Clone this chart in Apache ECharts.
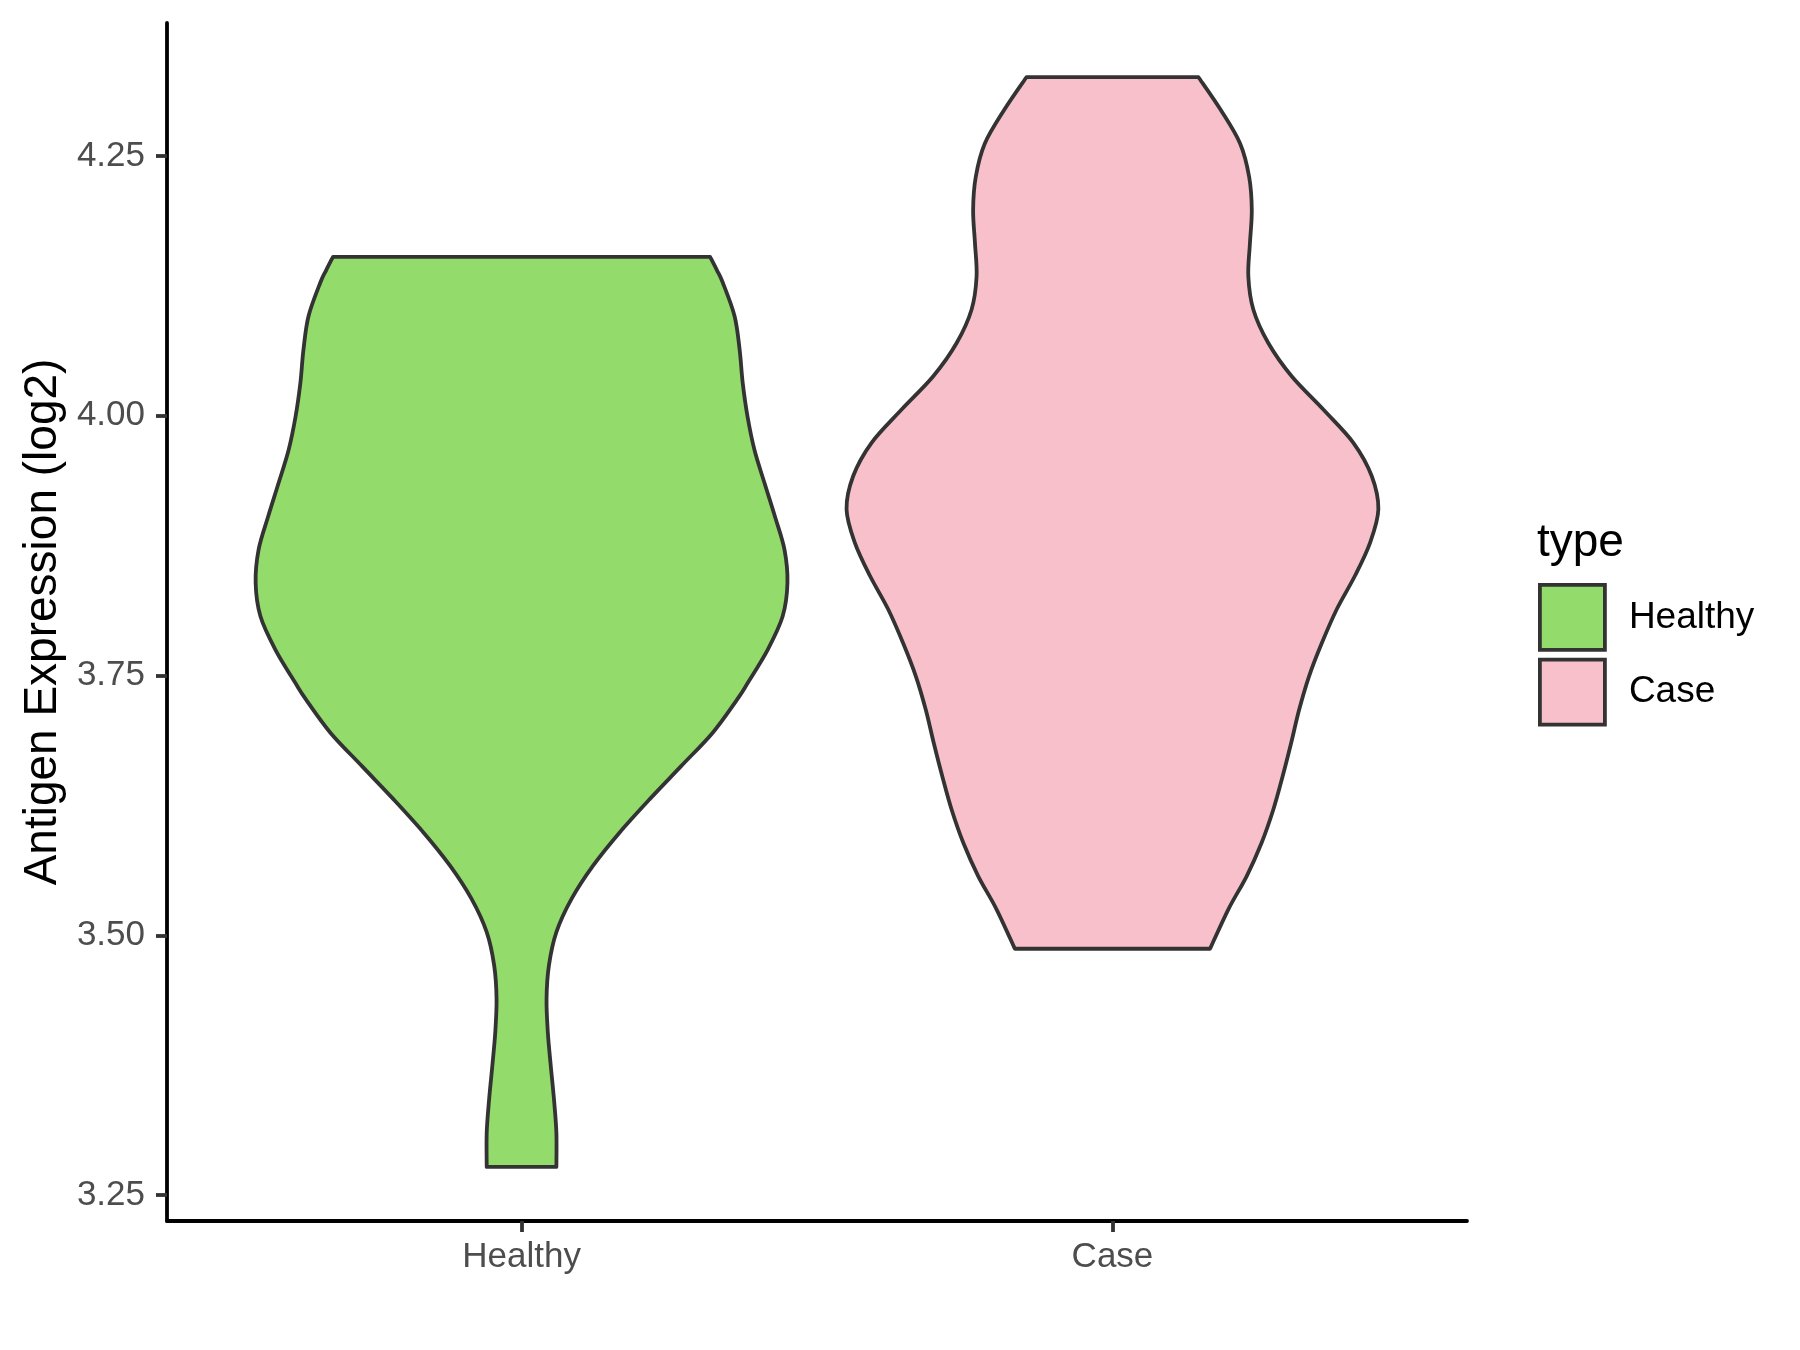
<!DOCTYPE html>
<html>
<head>
<meta charset="utf-8">
<script src="https://cdn.jsdelivr.net/npm/echarts@6/dist/echarts.min.js"></script>
<style>
html,body{margin:0;padding:0;background:#fff;}
#chart{width:1800px;height:1350px;}
</style>
</head>
<body>
<div id="chart"></div>
<script>
// ---- data ----
const categories = ['Healthy', 'Case'];
const yTicks = [3.25, 3.50, 3.75, 4.00, 4.25];

// violin outline: expression value and relative density (max = 1)
const healthyValues = [3.277, 3.310, 3.342, 3.374, 3.406, 3.439, 3.471, 3.503, 3.535, 3.567, 3.599, 3.631, 3.663, 3.695, 3.727, 3.743, 3.775, 3.807, 3.839, 3.871, 3.903, 3.935, 3.967, 3.999, 4.031, 4.064, 4.096, 4.128, 4.140, 4.153];
const healthyDensity = [0.131, 0.131, 0.122, 0.110, 0.099, 0.094, 0.103, 0.131, 0.188, 0.269, 0.369, 0.482, 0.601, 0.719, 0.811, 0.851, 0.926, 0.982, 1.000, 0.989, 0.953, 0.914, 0.876, 0.850, 0.832, 0.820, 0.801, 0.757, 0.735, 0.709];

const caseValues = [3.487, 3.525, 3.557, 3.589, 3.621, 3.653, 3.685, 3.717, 3.749, 3.781, 3.814, 3.846, 3.878, 3.910, 3.942, 3.974, 4.006, 4.038, 4.070, 4.102, 4.134, 4.166, 4.198, 4.230, 4.262, 4.294, 4.326];
const caseDensity = [0.367, 0.436, 0.505, 0.561, 0.605, 0.640, 0.672, 0.702, 0.739, 0.787, 0.844, 0.912, 0.969, 1.000, 0.975, 0.906, 0.793, 0.674, 0.586, 0.530, 0.511, 0.517, 0.524, 0.514, 0.480, 0.408, 0.323];

const seriesColors = ['#93DB6B', '#F7C0CB'];
const FONT = '"Liberation Sans", Arial, Helvetica, sans-serif';
const HALF_WIDTH = 0.45;

function catmull(pts) {
  let d = '';
  const n = pts.length;
  for (let i = 0; i < n - 1; i++) {
    const p0 = pts[Math.max(i - 1, 0)], p1 = pts[i], p2 = pts[i + 1], p3 = pts[Math.min(i + 2, n - 1)];
    const c1x = p1[0] + (p2[0] - p0[0]) / 6, c1y = p1[1] + (p2[1] - p0[1]) / 6;
    const c2x = p2[0] - (p3[0] - p1[0]) / 6, c2y = p2[1] - (p3[1] - p1[1]) / 6;
    d += ' C' + c1x + ',' + c1y + ' ' + c2x + ',' + c2y + ' ' + p2[0] + ',' + p2[1];
  }
  return d;
}

function makeRender(values, density, color) {
  return function (params, api) {
    const c = api.value(0);
    const left = values.map((v, i) => api.coord([c - density[i] * HALF_WIDTH, v]));
    const right = values.map((v, i) => api.coord([c + density[i] * HALF_WIDTH, v])).reverse();
    let d = 'M' + left[0][0] + ',' + left[0][1];
    d += catmull(left);
    d += ' L' + right[0][0] + ',' + right[0][1];
    d += catmull(right);
    d += ' Z';
    return {
      type: 'path',
      shape: { pathData: d },
      style: { fill: color, stroke: '#333333', lineWidth: 3.8, lineJoin: 'round' }
    };
  };
}

const chart = echarts.init(document.getElementById('chart'), null, { renderer: 'canvas' });
const option = {
  backgroundColor: '#ffffff',
  animation: false,
  grid: { left: 167, right: 333, top: 23, bottom: 129, outerBoundsMode: 'none', containLabel: false },
  xAxis: {
    type: 'value', min: 0.4, max: 2.6,
    axisLine: { show: true, lineStyle: { color: '#000000', width: 3.8 } },
    splitLine: { show: false },
    axisTick: { show: true, customValues: [1, 2], length: 11, lineStyle: { color: '#333333', width: 3.8 } },
    axisLabel: {
      customValues: [1, 2], margin: 19,
      formatter: v => categories[Math.round(v) - 1] || '',
      color: '#4D4D4D', fontSize: 35, fontFamily: FONT
    }
  },
  yAxis: {
    type: 'value', min: 3.225, max: 4.378,
    name: 'Antigen Expression (log2)', nameLocation: 'middle', nameGap: 100,
    nameTextStyle: { color: '#000000', fontSize: 46, fontFamily: FONT },
    axisLine: { show: true, lineStyle: { color: '#000000', width: 3.8 } },
    splitLine: { show: false },
    axisTick: { show: true, customValues: yTicks, length: 11, lineStyle: { color: '#333333', width: 3.8 } },
    axisLabel: {
      customValues: yTicks, margin: 22,
      formatter: v => Number(v).toFixed(2),
      color: '#4D4D4D', fontSize: 35, fontFamily: FONT
    }
  },
  legend: {
    orient: 'vertical', left: 1533, top: 578,
    icon: 'rect', itemWidth: 65, itemHeight: 65, itemGap: 6,
    itemStyle: { borderColor: '#333333', borderWidth: 3.8 },
    textStyle: { color: '#000000', fontSize: 37, fontFamily: FONT, padding: [6, 0, 0, 19] },
    data: categories
  },
  graphic: [{
    type: 'text', left: 1537, top: 520,
    style: { text: 'type', fill: '#000000', font: '46px ' + FONT }
  }],
  series: [
    {
      type: 'custom', name: categories[0], coordinateSystem: 'cartesian2d',
      itemStyle: { color: seriesColors[0], borderColor: '#333333', borderWidth: 3.8 },
      renderItem: makeRender(healthyValues, healthyDensity, seriesColors[0]),
      data: [[1]]
    },
    {
      type: 'custom', name: categories[1], coordinateSystem: 'cartesian2d',
      itemStyle: { color: seriesColors[1], borderColor: '#333333', borderWidth: 3.8 },
      renderItem: makeRender(caseValues, caseDensity, seriesColors[1]),
      data: [[2]]
    }
  ]
};
chart.setOption(option);
</script>
</body>
</html>
